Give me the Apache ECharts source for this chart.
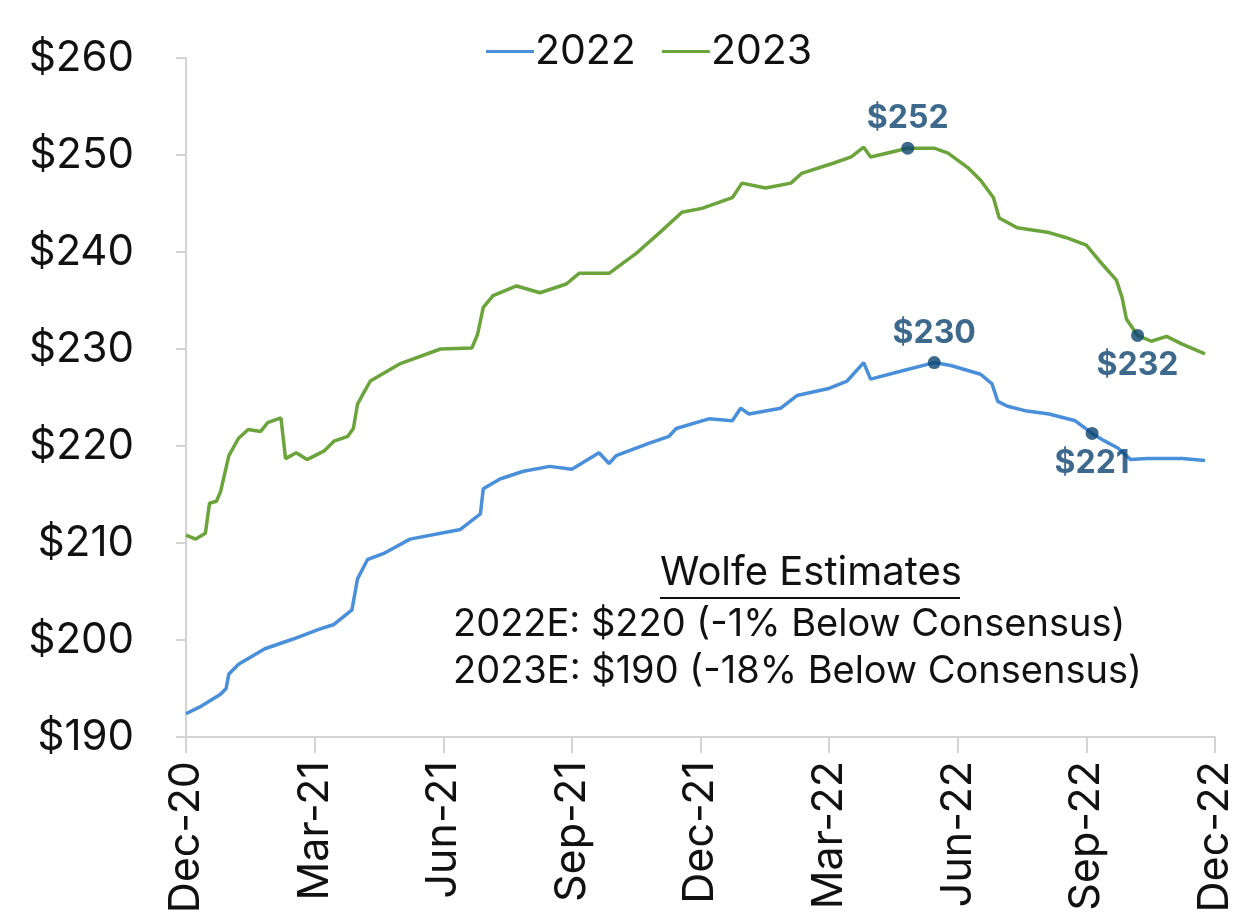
<!DOCTYPE html>
<html>
<head>
<meta charset="utf-8">
<script src="https://cdn.jsdelivr.net/npm/echarts@6/dist/echarts.min.js"></script>
<style>
html,body{margin:0;padding:0;background:#fff;}
#chart{width:1249px;height:918px;}
</style>
</head>
<body>
<div id="chart"></div>
<script>
// ---- Data ----
const dates2022 = ['2020-12-01','2020-12-11','2020-12-26','2020-12-30','2021-01-01','2021-01-08','2021-01-27','2021-02-15','2021-03-04','2021-03-15','2021-03-28','2021-04-01','2021-04-08','2021-04-19','2021-05-08','2021-06-13','2021-06-27','2021-06-29','2021-07-11','2021-07-28','2021-08-16','2021-09-01','2021-09-20','2021-09-27','2021-10-02','2021-10-26','2021-11-09','2021-11-14','2021-12-07','2021-12-24','2021-12-30','2022-01-05','2022-01-28','2022-02-08','2022-02-28','2022-03-14','2022-03-26','2022-03-31','2022-04-21','2022-05-15','2022-05-27','2022-06-17','2022-06-25','2022-06-29','2022-07-06','2022-07-20','2022-08-05','2022-08-24','2022-09-05','2022-09-14','2022-09-23','2022-10-02','2022-10-14','2022-11-08','2022-11-24'];
const values2022 = [192.4,193.1,194.4,195.0,196.5,197.5,199.1,200.1,201.1,201.6,203.1,206.3,208.3,208.9,210.4,211.4,213.0,215.6,216.6,217.4,217.9,217.6,219.3,218.2,219.0,220.3,221.0,221.8,222.8,222.6,223.9,223.3,223.9,225.2,225.9,226.7,228.6,226.9,227.7,228.6,228.3,227.4,226.4,224.6,224.1,223.6,223.3,222.6,221.3,220.5,219.8,218.6,218.7,218.7,218.5];

const dates2023 = ['2020-12-01','2020-12-08','2020-12-15','2020-12-18','2020-12-23','2020-12-26','2021-01-01','2021-01-08','2021-01-15','2021-01-24','2021-01-29','2021-02-07','2021-02-10','2021-02-17','2021-02-24','2021-03-08','2021-03-15','2021-03-25','2021-03-29','2021-04-01','2021-04-05','2021-04-10','2021-05-01','2021-05-30','2021-06-21','2021-06-25','2021-06-29','2021-07-06','2021-07-23','2021-08-09','2021-08-28','2021-09-06','2021-09-27','2021-10-16','2021-11-04','2021-11-18','2021-12-02','2021-12-24','2021-12-31','2022-01-17','2022-02-04','2022-02-11','2022-03-05','2022-03-17','2022-03-26','2022-03-31','2022-04-26','2022-05-15','2022-05-25','2022-06-08','2022-06-17','2022-06-26','2022-06-30','2022-07-13','2022-08-05','2022-08-17','2022-09-01','2022-09-10','2022-09-22','2022-09-26','2022-09-29','2022-10-07','2022-10-17','2022-10-28','2022-11-08','2022-11-24'];
const values2023 = [210.8,210.4,211.0,214.1,214.3,215.3,219.0,220.8,221.7,221.5,222.4,222.9,218.7,219.3,218.6,219.5,220.5,221.0,221.8,224.3,225.4,226.7,228.5,230.0,230.1,231.5,234.3,235.5,236.5,235.8,236.7,237.8,237.8,239.8,242.2,244.1,244.5,245.6,247.1,246.6,247.1,248.1,249.2,249.8,250.8,249.8,250.7,250.7,250.2,248.7,247.4,245.6,243.5,242.5,242.0,241.5,240.7,239.1,237.1,235.3,233.1,231.4,230.8,231.3,230.5,229.5];

// Highlighted points (dot + callout)
const callout2022Dates = ['2022-05-15','2022-09-05'];
const callout2022Values = [228.6,221.3];
const callout2022Labels = ['$230','$221'];
const callout2022Pos = ['top','bottom'];
const callout2023Dates = ['2022-04-26','2022-10-07'];
const callout2023Values = [250.7,231.4];
const callout2023Labels = ['$252','$232'];
const callout2023Pos = ['top','bottom'];

const xTickLabels = ['Dec-20','Mar-21','Jun-21','Sep-21','Dec-21','Mar-22','Jun-22','Sep-22','Dec-22'];
const xStartMonth = '2020-12-01';
const xMonthsStep = 3;
const yMin = 190, yMax = 260, yStep = 10;

const seriesNames = ['2022','2023'];
const noteTitle = 'Wolfe Estimates';
const noteLines = ['2022E: $220 (-1% Below Consensus)','2023E: $190 (-18% Below Consensus)'];

// ---- Build ----
// convert date to fractional months elapsed since Dec-2020
function toM(s) {
  const p = s.split('-').map(Number);
  const b = xStartMonth.split('-').map(Number);
  const dim = new Date(p[0], p[1], 0).getDate();
  return (p[0] - b[0]) * 12 + (p[1] - b[1]) + (p[2] - 1) / dim;
}
const zip = (d, v) => d.map((x, i) => [toM(x), v[i]]);
const xMax = (xTickLabels.length - 1) * xMonthsStep;

const FONT = 'Inter';
const BLUE = '#4a8fd9';
const GREEN = '#6aa43a';
const NAVY = '#0d436f';
const AXIS = '#d4d4d4';

function callouts(dates, vals, labels, pos) {
  return dates.map((d, i) => ({
    value: [toM(d), vals[i]],
    label: { show: true, formatter: labels[i], position: pos[i], distance: 7 }
  }));
}

const chart = echarts.init(document.getElementById('chart'), null, { renderer: 'canvas' });
chart.setOption({
  animation: false,
  backgroundColor: '#ffffff',
  textStyle: { fontFamily: FONT },
  legend: {
    top: 26, left: 481,
    data: seriesNames,
    icon: 'rect', itemWidth: 48, itemHeight: 3, itemGap: 26,
    textStyle: { fontFamily: FONT, fontSize: 41, color: '#111', padding: [0, 0, 0, -4] }
  },
  grid: { left: 186, right: 34, top: 58, bottom: 181, containLabel: false },
  xAxis: {
    type: 'value',
    min: 0, max: xMax, interval: xMonthsStep,
    splitLine: { show: false },
    axisLine: { show: true, onZero: false, lineStyle: { color: AXIS, width: 2 } },
    axisTick: { show: true, length: 16, lineStyle: { color: AXIS, width: 2 } },
    axisLabel: {
      rotate: 90, margin: 24,
      fontFamily: FONT, fontSize: 43, color: '#111',
      formatter: v => xTickLabels[Math.round(v / xMonthsStep)] || ''
    }
  },
  yAxis: {
    type: 'value', min: yMin, max: yMax, interval: yStep,
    splitLine: { show: false },
    axisLine: { show: true, lineStyle: { color: AXIS, width: 2 } },
    axisTick: { show: true, length: 10, lineStyle: { color: AXIS, width: 2 } },
    axisLabel: { margin: 52, fontFamily: FONT, fontSize: 42, color: '#111', formatter: v => '$' + v }
  },
  series: [
    { name: seriesNames[0], type: 'line', data: zip(dates2022, values2022), showSymbol: false, symbol: 'none',
      lineStyle: { color: BLUE, width: 3.5 }, itemStyle: { color: BLUE }, z: 2 },
    { name: seriesNames[1], type: 'line', data: zip(dates2023, values2023), showSymbol: false, symbol: 'none',
      lineStyle: { color: GREEN, width: 3.5 }, itemStyle: { color: GREEN }, z: 2 },
    { name: 'c2022', type: 'scatter', data: callouts(callout2022Dates, callout2022Values, callout2022Labels, callout2022Pos),
      symbolSize: 13, itemStyle: { color: NAVY }, z: 5,
      label: { color: NAVY, fontFamily: FONT, fontWeight: 'bold', fontSize: 32 } },
    { name: 'c2023', type: 'scatter', data: callouts(callout2023Dates, callout2023Values, callout2023Labels, callout2023Pos),
      symbolSize: 13, itemStyle: { color: NAVY }, z: 5,
      label: { color: NAVY, fontFamily: FONT, fontWeight: 'bold', fontSize: 32 } }
  ],
  graphic: [
    { type: 'text', left: 660, top: 553, style: { text: noteTitle, font: '40px ' + FONT, fill: '#111' } },
    { type: 'line', shape: { x1: 660, y1: 598, x2: 960, y2: 598 }, style: { stroke: '#111', lineWidth: 2 } },
    { type: 'text', left: 453, top: 606, style: { text: noteLines[0], font: '38px ' + FONT, fill: '#111' } },
    { type: 'text', left: 453, top: 653, style: { text: noteLines[1], font: '38px ' + FONT, fill: '#111' } }
  ]
});
</script>
</body>
</html>
